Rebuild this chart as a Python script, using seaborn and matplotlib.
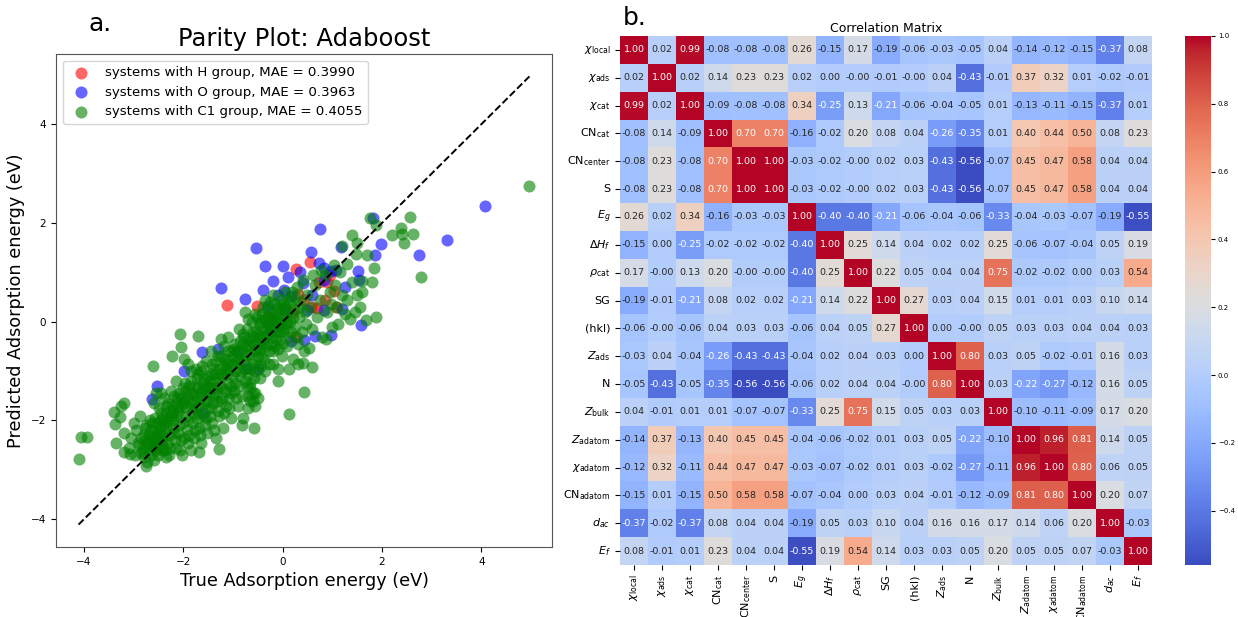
import numpy as np
import pandas as pd
import matplotlib
matplotlib.use("Agg")
import matplotlib.pyplot as plt
import seaborn as sns

# ================================================================
# Parity plot data (true, predicted)
mae_values = [0.3990, 0.3963, 0.4055]
group_names = ["H", "O", "C1"]
group_colors = ["red", "blue", "green"]

h_points = [
    (0.56, 1.22), (0.26, 1.06), (-1.12, 0.34), (-0.51, 0.32), (0.73, 0.80), (0.90, 0.80),
    (1.03, 0.62), (1.07, 0.30), (0.70, 0.27), (0.60, 0.30), (0.30, 0.57), (0.44, 0.44),
    (0.95, 0.95), (-0.30, 0.10), (0.20, 0.20), (0.85, 0.45), (0.25, -0.31),
]

o_points = [
    (4.07, 2.35), (3.31, 1.65), (2.75, 1.36), (1.82, 2.10), (0.75, 1.88), (1.98, 1.58),
    (1.86, 1.36), (1.51, 1.02), (0.57, 1.42), (0.00, 1.12), (1.07, 1.05), (-0.53, 1.49),
    (-0.36, 1.13), (-1.25, 0.69), (-0.76, 0.47), (-0.19, 0.82), (1.58, -0.07), (0.97, -0.26),
    (0.66, -0.29), (-1.62, -0.61), (-1.99, -0.99), (-2.54, -1.31), (-2.63, -1.57), (-0.50, -0.95),
    (-1.60, -1.85), (0.73, 1.18), (0.83, 1.08), (0.97, 1.02), (1.17, 1.52), (1.54, 0.84),
    (0.03, 0.64), (0.16, 0.52), (0.40, 0.78), (0.83, 0.84), (0.50, 0.24), (0.83, 0.24),
    (-0.71, -0.94), (-0.92, -0.61), (0.16, -0.40), (0.44, -0.37), (-0.24, -0.17), (0.03, 0.24),
    (-0.30, 0.31), (0.35, 1.00), (0.10, 0.90), (-0.10, 0.55), (0.60, 0.55), (1.20, 0.25),
    (-1.30, -0.55), (-0.40, 0.65), (1.25, 0.70),
]

c1_points = [
    # outliers
    (4.97, 2.75), (2.79, 0.91), (2.57, 2.13), (2.38, 1.89), (2.20, 1.76), (2.40, 1.78),
    (2.62, 1.77), (2.45, 1.59), (1.76, 2.10), (1.88, 1.96), (1.39, 1.76), (1.50, 1.60),
    (1.19, 1.54), (1.70, 1.35), (1.47, 1.37), (1.29, 1.17), (1.84, 1.09), (1.79, 0.81),
    (1.59, 0.82), (1.03, 1.15), (1.88, 0.10), (1.67, 0.04), (1.12, -0.04), (0.43, -1.42),
    (0.13, -1.87), (0.60, -0.91), (0.40, -0.83), (0.53, -0.53), (-2.06, -0.25), (-1.71, -0.29),
    (-2.23, -0.69), (-2.05, -0.51), (-1.98, -0.76), (-2.61, -0.90), (-1.29, -2.58), (-1.69, -2.63),
    (-0.58, -2.16), (-0.81, -2.09), (-4.07, -2.33), (-3.93, -2.33), (-4.11, -2.79), (-3.35, -2.46),
    (-3.39, -1.82), (-3.19, -1.64), (-3.37, -2.07), (-3.27, -1.94), (-3.07, -2.68), (-3.20, -2.63),
    (-2.75, -2.92),
    # x in [-3.0, -2.5]
    (-2.95, -2.20), (-2.90, -2.50), (-2.85, -2.65), (-2.80, -2.30), (-2.80, -2.75), (-2.75, -2.10),
    (-2.72, -2.45), (-2.70, -2.60), (-2.68, -2.00), (-2.65, -2.35), (-2.62, -2.55), (-2.60, -2.80),
    (-2.58, -1.95), (-2.55, -2.20), (-2.52, -2.45), (-2.50, -2.70), (-3.05, -2.35), (-3.10, -2.55),
    (-2.98, -2.70), (-2.88, -1.90), (-3.20, -2.25), (-3.25, -1.70), (-3.00, -2.05),
    # x in [-2.5, -2.0]
    (-2.48, -1.75), (-2.45, -2.00), (-2.42, -2.30), (-2.40, -2.60), (-2.38, -1.55), (-2.35, -1.85),
    (-2.32, -2.15), (-2.30, -2.45), (-2.28, -2.70), (-2.25, -1.40), (-2.22, -1.70), (-2.20, -2.00),
    (-2.18, -2.25), (-2.15, -2.55), (-2.12, -1.55), (-2.10, -1.85), (-2.08, -2.10), (-2.05, -2.40),
    (-2.02, -2.70), (-2.00, -1.35), (-2.45, -1.45), (-2.35, -2.75), (-2.15, -1.20), (-2.60, -1.65),
    (-2.55, -1.45),
    # x in [-2.0, -1.5]
    (-1.98, -1.60), (-1.95, -1.90), (-1.92, -2.20), (-1.90, -2.45), (-1.88, -1.30), (-1.85, -1.00),
    (-1.82, -1.75), (-1.80, -2.05), (-1.78, -2.35), (-1.75, -1.50), (-1.72, -1.15), (-1.70, -1.85),
    (-1.68, -2.15), (-1.65, -2.45), (-1.62, -0.90), (-1.60, -1.35), (-1.58, -1.65), (-1.55, -1.95),
    (-1.52, -2.25), (-1.50, -1.10), (-1.90, -0.85), (-1.75, -0.95), (-1.55, -0.80), (-1.85, -2.60),
    (-1.65, -1.00),
    # x in [-1.5, -1.0]
    (-1.48, -1.45), (-1.45, -1.75), (-1.42, -2.05), (-1.40, -0.95), (-1.38, -1.20), (-1.35, -2.35),
    (-1.32, -1.60), (-1.30, -0.70), (-1.28, -1.90), (-1.25, -1.05), (-1.22, -1.35), (-1.20, -2.15),
    (-1.18, -0.50), (-1.15, -1.70), (-1.12, -0.85), (-1.10, -1.25), (-1.08, -1.55), (-1.05, -1.95),
    (-1.02, -0.60), (-1.00, -1.10), (-1.45, -0.60), (-1.25, -0.35), (-1.35, -0.80), (-1.10, -0.30),
    # x in [-1.0, -0.5]
    (-0.98, -1.40), (-0.95, -0.45), (-0.92, -0.80), (-0.90, -1.70), (-0.88, -0.15), (-0.85, -1.10),
    (-0.82, -0.60), (-0.80, -1.95), (-0.78, -0.30), (-0.75, -0.95), (-0.72, -1.30), (-0.70, 0.05),
    (-0.68, -0.50), (-0.65, -1.60), (-0.62, -0.75), (-0.60, -0.20), (-0.58, -1.15), (-0.55, 0.15),
    (-0.52, -0.55), (-0.50, -0.90), (-0.60, -1.45), (-0.55, -1.70), (-0.70, -1.75), (-0.75, 0.20),
    # x in [-0.5, 0.0]
    (-0.48, -0.30), (-0.45, 0.00), (-0.42, -0.70), (-0.40, 0.30), (-0.38, -0.45), (-0.35, -1.00),
    (-0.32, -0.15), (-0.30, 0.10), (-0.28, -0.60), (-0.25, 0.40), (-0.22, -0.30), (-0.20, -0.85),
    (-0.18, 0.05), (-0.15, -0.50), (-0.12, 0.25), (-0.10, -1.20), (-0.08, -0.20), (-0.05, 0.00),
    (-0.02, -0.70), (0.00, 0.35), (-0.35, 0.45), (-0.20, 0.55), (-0.45, -1.15), (-0.10, -0.95),
    # x in [0.0, 0.5]
    (0.02, -0.15), (0.05, 0.15), (0.08, -0.50), (0.10, 0.45), (0.12, -0.30), (0.15, 0.00),
    (0.18, 0.60), (0.20, -0.75), (0.22, 0.25), (0.25, -0.10), (0.28, 0.70), (0.30, -0.45),
    (0.32, 0.10), (0.35, 0.40), (0.38, -0.20), (0.40, 0.85), (0.42, -0.60), (0.45, 0.20),
    (0.48, -0.05), (0.50, 0.55), (0.12, -0.95), (0.30, -0.85), (0.05, 0.60),
    # x in [0.5, 1.6]
    (0.55, 0.30), (0.60, -0.15), (0.65, 0.75), (0.70, 0.10), (0.75, 0.45), (0.80, -0.30),
    (0.85, 0.95), (0.90, 0.20), (0.95, 0.60), (1.00, -0.10), (0.62, 0.95), (0.78, 1.05),
    (0.88, -0.35), (0.98, 0.35), (1.05, 0.75), (1.10, 0.30), (1.15, 1.00), (1.20, 0.55),
    (1.25, 0.15), (1.30, 0.45), (1.40, 0.80), (1.45, 0.20), (1.50, 0.55), (1.35, 0.05),
    (1.55, 0.30), (1.60, 0.60),
    # dense diagonal band
    (-2.80, -2.55), (-2.70, -2.45), (-2.60, -2.35), (-2.50, -2.25), (-2.40, -2.10), (-2.30, -2.00),
    (-2.20, -1.85), (-2.10, -1.75), (-2.00, -1.65), (-1.90, -1.55), (-1.80, -1.45), (-1.70, -1.35),
    (-1.60, -1.25), (-1.50, -1.30), (-1.40, -1.50), (-1.30, -1.15), (-1.20, -0.90), (-1.10, -0.80),
    (-1.00, -0.70), (-0.90, -0.60), (-0.80, -0.45), (-0.70, -0.35), (-0.60, -0.30), (-0.50, -0.25),
    (-0.40, -0.10), (-0.30, -0.05), (-0.20, 0.10), (-0.10, 0.15), (0.00, 0.10), (0.10, 0.20),
    (-2.75, -2.40), (-2.65, -2.20), (-2.55, -2.60), (-2.45, -2.40), (-2.35, -1.70), (-2.25, -1.90),
    (-2.15, -1.65), (-2.05, -1.55), (-1.95, -1.40), (-1.85, -1.65), (-1.75, -1.75), (-1.65, -1.55),
    (-1.55, -1.45), (-1.45, -1.05), (-1.35, -1.35), (-1.25, -1.60), (-1.15, -0.95), (-1.05, -1.30),
    (-0.95, -1.00), (-0.85, -0.85), (-0.75, -0.70), (-0.65, -0.95), (-0.55, -0.60), (-0.45, -0.45),
    (-0.35, -0.30), (-0.25, -0.15), (-0.15, -0.05), (-0.05, -0.35), (0.05, -0.05),
    (-0.70, -1.50), (-0.60, -1.60), (-0.55, -1.45), (-0.65, -1.35), (-0.50, -1.55),
    # extra fill of the dense core
    (-2.92, -2.45), (-2.86, -2.35), (-2.82, -2.62), (-2.78, -2.15), (-2.74, -2.85), (-2.70, -2.30),
    (-2.66, -2.70), (-2.64, -2.05), (-2.60, -2.50), (-2.56, -2.30), (-2.54, -2.05), (-2.50, -2.40),
    (-2.48, -2.58), (-2.46, -2.15), (-2.44, -1.85), (-2.42, -2.50), (-2.40, -1.95), (-2.38, -2.35),
    (-2.36, -2.60), (-2.34, -2.05),
    (-2.30, -1.65), (-2.28, -2.30), (-2.26, -2.55), (-2.24, -1.80), (-2.20, -2.15), (-2.18, -1.50),
    (-2.16, -2.40), (-2.14, -1.90), (-2.10, -2.25), (-2.08, -1.45), (-2.06, -2.60), (-2.04, -1.70),
    (-2.00, -2.05), (-1.98, -2.35), (-1.96, -1.25), (-1.94, -1.75), (-1.90, -2.00), (-1.88, -2.30),
    (-1.86, -1.45), (-1.84, -1.20), (-1.80, -1.85), (-1.78, -1.60), (-1.76, -2.20), (-1.74, -1.30),
    (-1.72, -1.95), (-1.70, -1.05), (-1.68, -1.70), (-1.66, -2.30), (-1.64, -1.45), (-1.60, -1.90),
    (-1.58, -1.15), (-1.56, -2.10), (-1.54, -1.60), (-1.52, -1.35), (-1.50, -1.75),
    (-1.48, -1.20), (-1.46, -1.90), (-1.44, -1.35), (-1.42, -0.85), (-1.40, -1.65), (-1.38, -2.20),
    (-1.36, -1.05), (-1.34, -1.45), (-1.30, -1.80), (-1.28, -0.95), (-1.26, -1.30), (-1.24, -0.70),
    (-1.22, -1.55), (-1.20, -1.10), (-1.18, -1.85), (-1.16, -0.75), (-1.14, -1.40), (-1.12, -1.05),
    (-1.10, -0.60), (-1.08, -1.75), (-1.06, -0.95), (-1.04, -1.45), (-1.00, -0.85), (-0.98, -0.55),
    (-0.96, -1.25), (-0.94, -1.55), (-0.90, -0.75), (-0.88, -1.30), (-0.86, -0.40), (-0.84, -1.00),
    (-0.82, -1.50), (-0.80, -0.25),
    (-0.78, -0.80), (-0.76, -1.20), (-0.74, -0.50), (-0.72, -0.15), (-0.70, -1.05), (-0.68, -0.65),
    (-0.66, -1.25), (-0.64, -0.40), (-0.62, 0.00), (-0.60, -0.85), (-0.58, -0.45), (-0.56, -1.00),
    (-0.54, -0.20), (-0.52, 0.10), (-0.50, -0.70), (-0.48, -0.05), (-0.46, -0.55), (-0.44, -0.90),
    (-0.42, 0.15), (-0.40, -0.35), (-0.38, -0.75), (-0.36, 0.05), (-0.34, -0.50), (-0.32, 0.25),
    (-0.30, -0.25), (-0.28, -0.85), (-0.26, 0.00), (-0.24, -0.45), (-0.22, 0.20), (-0.20, -0.60),
    (-0.18, -0.20), (-0.16, 0.35), (-0.14, -0.35), (-0.12, 0.00), (-0.10, -0.55), (-0.08, 0.30),
    (-0.06, -0.10), (-0.04, 0.45), (-0.02, -0.45), (0.00, -0.20), (0.04, 0.30), (0.08, 0.00),
    (0.12, 0.40), (0.16, -0.20), (0.20, 0.10), (0.24, 0.50), (0.28, -0.30), (0.32, 0.30),
]

# ================================================================
# Correlation matrix
feature_labels = [
    r"$\chi_{\mathrm{local}}$", r"$\chi_{\mathrm{ads}}$", r"$\chi_{\mathrm{cat}}$",
    r"$\mathrm{CN}_{\mathrm{cat}}$", r"$\mathrm{CN}_{\mathrm{center}}$", "S", r"$E_g$",
    r"$\Delta H_f$", r"$\rho_{\mathrm{cat}}$", "SG", "(hkl)", r"$Z_{\mathrm{ads}}$", "N",
    r"$Z_{\mathrm{bulk}}$", r"$Z_{\mathrm{adatom}}$", r"$\chi_{\mathrm{adatom}}$",
    r"$\mathrm{CN}_{\mathrm{adatom}}$", r"$d_{ac}$", r"$E_f$",
]

z = -0.001  # shown as -0.00
corr_values = [
    [1.00, 0.02, 0.99, -0.08, -0.08, -0.08, 0.26, -0.15, 0.17, -0.19, -0.06, -0.03, -0.05, 0.04, -0.14, -0.12, -0.15, -0.37, 0.08],
    [0.02, 1.00, 0.02, 0.14, 0.23, 0.23, 0.02, 0.00, z, -0.01, z, 0.04, -0.43, -0.01, 0.37, 0.32, 0.01, -0.02, -0.01],
    [0.99, 0.02, 1.00, -0.09, -0.08, -0.08, 0.34, -0.25, 0.13, -0.21, -0.06, -0.04, -0.05, 0.01, -0.13, -0.11, -0.15, -0.37, 0.01],
    [-0.08, 0.14, -0.09, 1.00, 0.70, 0.70, -0.16, -0.02, 0.20, 0.08, 0.04, -0.26, -0.35, 0.01, 0.40, 0.44, 0.50, 0.08, 0.23],
    [-0.08, 0.23, -0.08, 0.70, 1.00, 1.00, -0.03, -0.02, z, 0.02, 0.03, -0.43, -0.56, -0.07, 0.45, 0.47, 0.58, 0.04, 0.04],
    [-0.08, 0.23, -0.08, 0.70, 1.00, 1.00, -0.03, -0.02, z, 0.02, 0.03, -0.43, -0.56, -0.07, 0.45, 0.47, 0.58, 0.04, 0.04],
    [0.26, 0.02, 0.34, -0.16, -0.03, -0.03, 1.00, -0.40, -0.40, -0.21, -0.06, -0.04, -0.06, -0.33, -0.04, -0.03, -0.07, -0.19, -0.55],
    [-0.15, 0.00, -0.25, -0.02, -0.02, -0.02, -0.40, 1.00, 0.25, 0.14, 0.04, 0.02, 0.02, 0.25, -0.06, -0.07, -0.04, 0.05, 0.19],
    [0.17, z, 0.13, 0.20, z, z, -0.40, 0.25, 1.00, 0.22, 0.05, 0.04, 0.04, 0.75, -0.02, -0.02, 0.00, 0.03, 0.54],
    [-0.19, -0.01, -0.21, 0.08, 0.02, 0.02, -0.21, 0.14, 0.22, 1.00, 0.27, 0.03, 0.04, 0.15, 0.01, 0.01, 0.03, 0.10, 0.14],
    [-0.06, z, -0.06, 0.04, 0.03, 0.03, -0.06, 0.04, 0.05, 0.27, 1.00, 0.00, z, 0.05, 0.03, 0.03, 0.04, 0.04, 0.03],
    [-0.03, 0.04, -0.04, -0.26, -0.43, -0.43, -0.04, 0.02, 0.04, 0.03, 0.00, 1.00, 0.80, 0.03, 0.05, -0.02, -0.01, 0.16, 0.03],
    [-0.05, -0.43, -0.05, -0.35, -0.56, -0.56, -0.06, 0.02, 0.04, 0.04, z, 0.80, 1.00, 0.03, -0.22, -0.27, -0.12, 0.16, 0.05],
    [0.04, -0.01, 0.01, 0.01, -0.07, -0.07, -0.33, 0.25, 0.75, 0.15, 0.05, 0.03, 0.03, 1.00, -0.10, -0.11, -0.09, 0.17, 0.20],
    [-0.14, 0.37, -0.13, 0.40, 0.45, 0.45, -0.04, -0.06, -0.02, 0.01, 0.03, 0.05, -0.22, -0.10, 1.00, 0.96, 0.81, 0.14, 0.05],
    [-0.12, 0.32, -0.11, 0.44, 0.47, 0.47, -0.03, -0.07, -0.02, 0.01, 0.03, -0.02, -0.27, -0.11, 0.96, 1.00, 0.80, 0.06, 0.05],
    [-0.15, 0.01, -0.15, 0.50, 0.58, 0.58, -0.07, -0.04, 0.00, 0.03, 0.04, -0.01, -0.12, -0.09, 0.81, 0.80, 1.00, 0.20, 0.07],
    [-0.37, -0.02, -0.37, 0.08, 0.04, 0.04, -0.19, 0.05, 0.03, 0.10, 0.04, 0.16, 0.16, 0.17, 0.14, 0.06, 0.20, 1.00, -0.03],
    [0.08, -0.01, 0.01, 0.23, 0.04, 0.04, -0.55, 0.19, 0.54, 0.14, 0.03, 0.03, 0.05, 0.20, 0.05, 0.05, 0.07, -0.03, 1.00],
]
# ================================================================

W, H = 1238, 617
fig = plt.figure(figsize=(W / 100, H / 100), dpi=100)

# ---- a. parity plot
ax1 = fig.add_axes([56 / W, 70 / H, 496 / W, 493 / H])
all_pts = []
for pts, name, col, mae in zip([h_points, o_points, c1_points], group_names, group_colors, mae_values):
    df = pd.DataFrame(pts, columns=["true", "pred"])
    all_pts.append(df)
    sns.scatterplot(data=df, x="true", y="pred", color=col, alpha=0.6, s=75, linewidth=0,
                    label=f"systems with {name} group, MAE = {mae:.4f}", ax=ax1)

df_all = pd.concat(all_pts)
lo, hi = df_all["true"].min(), df_all["true"].max()
ax1.plot([lo, hi], [lo, hi], "k--", lw=1.4)

ax1.set_title("Parity Plot: Adaboost", fontsize=17.5)
ax1.set_xlabel("True Adsorption energy (eV)", fontsize=12.7)
ax1.set_ylabel("Predicted Adsorption energy (eV)", fontsize=12.7)
ax1.set_xticks([-4, -2, 0, 2, 4])
ax1.set_yticks([-4, -2, 0, 2, 4])
ax1.tick_params(labelsize=7.5)
for sp in ax1.spines.values():
    sp.set_color("#555555")
ax1.legend(loc="upper left", fontsize=9.6)

# ---- b. correlation matrix
corr = pd.DataFrame(corr_values, index=feature_labels, columns=feature_labels)
ax2 = fig.add_axes([620 / W, 52 / H, 532 / W, 529 / H])
cax = fig.add_axes([1185 / W, 52 / H, 26 / W, 529 / H])
sns.heatmap(corr, annot=True, fmt=".2f", cmap="coolwarm", ax=ax2, cbar_ax=cax,
            annot_kws={"size": 6.8})
ax2.set_title("Correlation Matrix", fontsize=9, pad=3)
ax2.tick_params(labelsize=8)
ax2.set_xticklabels(ax2.get_xticklabels(), rotation=90)
ax2.set_yticklabels(ax2.get_yticklabels(), rotation=0)
cax.tick_params(labelsize=5, length=3, pad=2)

# panel letters
fig.text(89 / W, 1 - 31 / H, "a.", fontsize=18, va="baseline")
fig.text(623 / W, 1 - 25 / H, "b.", fontsize=18, va="baseline")

fig.savefig("out.png", dpi=100)
